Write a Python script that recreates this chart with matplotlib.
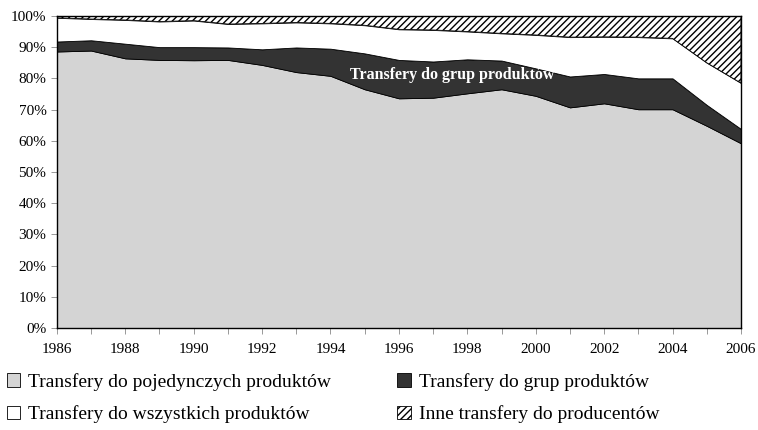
import matplotlib
matplotlib.use("Agg")
import matplotlib.pyplot as plt
import numpy as np
from matplotlib.ticker import FuncFormatter, MultipleLocator

plt.rcParams['font.family'] = ['Liberation Serif', 'DejaVu Serif']
plt.rcParams['hatch.linewidth'] = 1.0

years = np.arange(1986, 2007)
# udzialy (%) poszczegolnych kategorii transferow
pojedyncze = [88.6, 88.9, 86.4, 85.9, 85.8, 85.9, 84.3, 82.0, 80.8, 76.5, 73.6,
              73.8, 75.2, 76.5, 74.4, 70.7, 72.0, 70.1, 70.1, 64.8, 59.2]
grupy = [3.2, 3.3, 4.7, 4.1, 4.2, 4.0, 5.0, 7.9, 8.7, 11.5, 12.3,
         11.6, 10.9, 9.2, 8.8, 9.9, 9.4, 9.9, 9.9, 6.7, 4.6]
wszystkie = [7.6, 6.8, 7.6, 8.2, 8.5, 7.5, 8.3, 8.0, 8.1, 9.0, 9.8,
             10.1, 8.9, 8.7, 10.7, 12.6, 11.9, 13.2, 12.8, 13.5, 14.7]
inne = [100 - a - b - c for a, b, c in zip(pojedyncze, grupy, wszystkie)]

labels = ['Transfery do pojedynczych produktów', 'Transfery do grup produktów',
          'Transfery do wszystkich produktów', 'Inne transfery do producentów']

fig = plt.figure(figsize=(7.58, 4.30), dpi=100)
ax = fig.add_axes([0.075, 0.237, 0.9025, 0.726])

polys = ax.stackplot(years, pojedyncze, grupy, wszystkie, inne,
                     colors=['#d4d4d4', '#333333', 'white', 'white'],
                     edgecolor='black', linewidth=0.6)
polys[3].set_hatch('/////')

ax.set_xlim(1986, 2006)
ax.set_ylim(0, 100)
ax.xaxis.set_major_locator(MultipleLocator(2))
ax.xaxis.set_minor_locator(MultipleLocator(1))
ax.yaxis.set_major_locator(MultipleLocator(10))
ax.yaxis.set_major_formatter(FuncFormatter(lambda v, p: '%d%%' % v))
ax.tick_params(labelsize=11, length=4, width=0.6, color='#888888')
ax.tick_params(which='minor', length=4, width=0.6, color='#888888')
ax.tick_params(axis='x', pad=7)
for s in ax.spines.values():
    s.set_linewidth(1.0)

ax.text(1997.55, 81, 'Transfery do grup produktów', color='white',
        fontweight='bold', fontsize=11.5, ha='center', va='center')

order = [0, 2, 1, 3]
fig.legend([polys[i] for i in order], [labels[i] for i in order],
           loc='lower left', bbox_to_anchor=(-0.014, -0.025), ncol=2,
           frameon=False, fontsize=14, handlelength=0.7, handleheight=0.7,
           handletextpad=0.4, columnspacing=3.4, labelspacing=0.75)

fig.savefig('out.png', dpi=100)
